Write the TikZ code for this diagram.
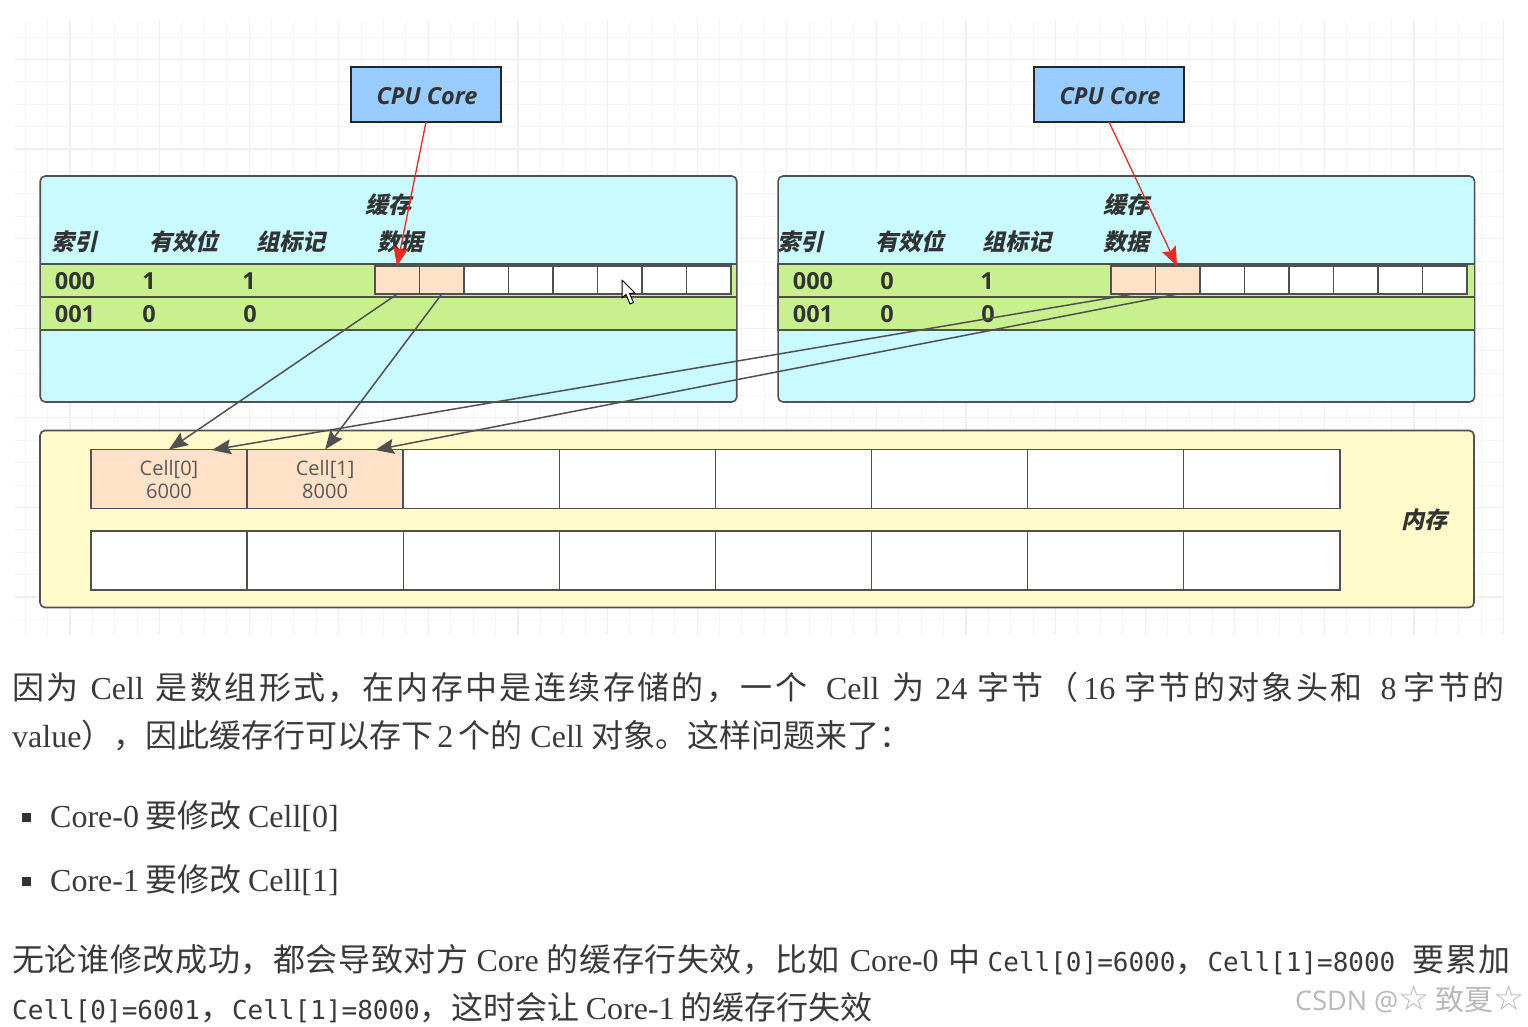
\documentclass[tikz,border=0pt]{standalone}
\usepackage{fontspec}
\setmainfont{Liberation Serif}
\setsansfont{Open Sans}
\setmonofont{DejaVu Sans Mono}
\newfontfamily\cjk{Noto Sans CJK SC}
\newfontfamily\cjka[LetterSpace=7.5]{Noto Sans CJK SC}
\newfontfamily\cjkb[LetterSpace=2]{Noto Sans CJK SC}
\newfontfamily\cjkhead[BoldFeatures={FakeSlant=0.22}]{Noto Sans CJK SC}
\newfontfamily\starfont{DejaVu Sans}
\usetikzlibrary{arrows.meta}
\definecolor{gridc}{HTML}{F5F5F5}
\definecolor{gridm}{HTML}{EFEFEF}
\definecolor{stroke}{HTML}{505050}
\definecolor{cachec}{HTML}{C8FAFF}
\definecolor{rowc}{HTML}{C8F08E}
\definecolor{cellc}{HTML}{FFE2C8}
\definecolor{memc}{HTML}{FFFBCB}
\definecolor{cpuc}{HTML}{99CCFF}
\definecolor{ink}{HTML}{333333}
\definecolor{para}{HTML}{3A3A3A}
\definecolor{redline}{HTML}{EE2A1C}
\newcommand{\cj}[1]{{\cjk #1}}
\newcommand{\cja}[1]{{\cjka #1}}
\newcommand{\cjb}[1]{{\cjkb #1}}
\newcommand{\hs}[1]{\hspace{#1pt}}
\newcommand{\mn}[1]{{\ttfamily\fontsize{26}{30}\selectfont #1}}
\newcommand{\cpulabel}{\hspace*{2pt}\raisebox{-2pt}[\height][\depth]{CPU Core}}
\tikzset{
  panel/.style={draw=stroke,line width=1.6pt,rounded corners=5pt},
  cachebox/.style={panel,fill=cachec,minimum width=696.5,minimum height=226,inner sep=0,outer sep=0},
  membox/.style={panel,fill=memc,minimum width=1434,minimum height=177,inner sep=0,outer sep=0},
  rowband/.style={draw=stroke,line width=1.3pt,fill=rowc,minimum width=696.5,minimum height=33,inner sep=0,outer sep=0},
  ccell/.style={draw=stroke,line width=1.2pt,fill=white,minimum width=44.5,minimum height=28,inner sep=0,outer sep=0},
  mcell/.style={draw=stroke,line width=1.4pt,fill=white,minimum width=156.1,minimum height=59,inner sep=0,outer sep=0,
     align=center,font=\sffamily\fontsize{20}{24}\selectfont,text=black!65},
  cpubox/.style={draw=black!85,line width=2.6pt,fill=cpuc,minimum width=150,minimum height=55,inner sep=0,outer sep=0,
     font=\sffamily\bfseries\itshape\fontsize{23.5}{28}\selectfont,text=ink},
  head/.style={font=\cjkhead\bfseries\fontsize{23}{26}\selectfont,text=ink,inner sep=0},
  val/.style={font=\sffamily\bfseries\fontsize{23.5}{26}\selectfont,text=ink,inner sep=0},
  line/.style={anchor=base west,inner sep=0,text=para,font=\fontsize{32}{38}\selectfont},
  redarrow/.style={draw=redline,line width=1.3pt,-{Stealth[length=19pt,width=15pt,inset=3pt]}},
  darkarrow/.style={draw=stroke,line width=1.5pt,-{Stealth[length=19pt,width=15pt,inset=3pt]}},
}
\begin{document}
\begin{tikzpicture}[x=1pt,y=-1pt]
\useasboundingbox (0,0) rectangle (1528,1026);
\fill[white] (0,0) rectangle (1528,1026);
% grid
\foreach \i in {0,...,66}{
  \draw[gridc,line width=1pt] ({25+22.4*\i},20) -- ({25+22.4*\i},635);
}
\foreach \i in {0,...,26}{
  \draw[gridc,line width=1pt] (15,{37+22.4*\i}) -- (1503,{37+22.4*\i});
}
\foreach \i in {0,...,16}{
  \draw[gridm,line width=1.2pt] ({70+89.6*\i},20) -- ({70+89.6*\i},635);
}
\foreach \i in {0,...,6}{
  \draw[gridm,line width=1.2pt] (15,{59.4+89.6*\i}) -- (1503,{59.4+89.6*\i});
}
% CPU
\node[cpubox] (cpuA) at (426,94.5) {\cpulabel};
\node[cpubox] (cpuB) at (1109,94.5) {\cpulabel};
% caches
\node[cachebox] (cacheA) at (388.5,289) {};
\node[cachebox] (cacheB) at (1126.3,289) {};
\node[rowband] (rowA0) at (388.5,280.5) {};
\node[rowband] (rowA1) at (388.5,313.5) {};
\node[rowband] (rowB0) at (1126.3,280.5) {};
\node[rowband] (rowB1) at (1126.3,313.5) {};
\foreach \i in {0,...,7}{
  \node[ccell] (A\i) at ({375+44.5*(\i+.5)},280) {};
  \node[ccell] (B\i) at ({1111+44.5*(\i+.5)},280) {};
}
\foreach \i in {0,1}{
  \node[ccell,fill=cellc] at (A\i) {};
  \node[ccell,fill=cellc] at (B\i) {};
}
% heads
\node[head] (ta) at (388.5,205) {缓存};
\node[head] (ha0) at (74.5,242) {索引};
\node[head] (ha1) at (183.5,242) {有效位};
\node[head] (ha2) at (290.5,242) {组标记};
\node[head] (ha3) at (400.5,242) {数据};
\node[head] (tb) at (1126.5,205) {缓存};
\node[head] (hb0) at (800.5,242) {索引};
\node[head] (hb1) at (909.5,242) {有效位};
\node[head] (hb2) at (1016.5,242) {组标记};
\node[head] (hb3) at (1126.5,242) {数据};
% values
\node[val] (va00) at (75,281.5) {000};
\node[val] (va01) at (149,281.5) {1};
\node[val] (va02) at (249,281.5) {1};
\node[val] (va10) at (75,314.5) {001};
\node[val] (va11) at (149,314.5) {0};
\node[val] (va12) at (250,314.5) {0};
\node[val] (vb00) at (813,281.5) {000};
\node[val] (vb01) at (887,281.5) {0};
\node[val] (vb02) at (987,281.5) {1};
\node[val] (vb10) at (813,314.5) {001};
\node[val] (vb11) at (887,314.5) {0};
\node[val] (vb12) at (988,314.5) {0};
% memory
\node[membox] (mem) at (757,519) {};
\foreach \i in {0,...,7}{
  \node[mcell] (M\i) at ({91+156.1*(\i+.5)},479) {};
  \node[mcell] (N\i) at ({91+156.1*(\i+.5)},560.5) {};
}
\node[mcell,fill=cellc] (M0) at (169,479) {Cell[0]\\[-1pt]6000};
\node[mcell,fill=cellc] (M1) at (325.1,479) {Cell[1]\\[-1pt]8000};
\node[head] (memt) at (1424,520) {内存};
% connectors
\coordinate (m0r) at (212,450);
\coordinate (m1r) at (375,450);
\draw[darkarrow] (A0.south) -- (M0.north);
\draw[darkarrow] (A1.south) -- (M1.north);
\draw[darkarrow] (B0.south) -- (m0r);
\draw[darkarrow] (B1.south) -- (m1r);
\coordinate (rA) at (397,266);
\coordinate (rB) at (1177,266);
\draw[redarrow] (cpuA.south) -- (rA);
\draw[redarrow] (cpuB.south) -- (rB);
% cursor
\draw[fill=white,draw=black,line width=1pt,line join=round] (622,280) -- (622,298) -- (626,294.5) -- (630,304) -- (633.5,302.5) -- (629.5,293.5) -- (635,293) -- cycle;
% paragraph
\node[line] (p1) at (12,699) {\cja{因为}\hs{12}Cell\hs{12}\cja{是数组形式，在内存中是连续存储的，一个}\hs{19}Cell\hs{13}\cja{为}\hs{11}24\hs{10}\cja{字节（}\hs{5}16\hs{9}\cja{字节的对象头和}\hs{18}8\hs{7}\cja{字节的}};
\node[line] (p2) at (12,747) {value\cj{），因此缓存行可以存下}\hs{4}2\hs{5}\cj{个的}\hs{8}Cell\hs{8}\cj{对象。这样问题来了：}};
\node[fill=ink,minimum size=9pt,inner sep=0] (b1) at (26,817) {};
\node[fill=ink,minimum size=9pt,inner sep=0] (b2) at (26,881) {};
\node[line] (p3) at (50,827) {Core-0\hs{6}\cj{要修改}\hs{7}Cell[0]};
\node[line] (p4) at (50,891) {Core-1\hs{6}\cj{要修改}\hs{7}Cell[1]};
\node[line] (p5) at (12,971) {\hbox to 1498pt{\cjb{无论谁修改成功，都会导致对方}\hs{8}Core\hs{8}\cjb{的缓存行失效，比如}\hs{10}Core-0\hs{10}\cjb{中}\hs{7}\mn{Cell[0]=6000}\cj{，}\mn{Cell[1]=8000}\hfill\cjb{要累加}}};
\node[line] (p6) at (12,1019) {\mn{Cell[0]=6001}\cj{，}\mn{Cell[1]=8000}\cj{，这时会让}\hs{6}Core-1\hs{6}\cj{的缓存行失效}};
\node[anchor=base west,inner sep=0,text=black!28,font=\sffamily\fontsize{27}{30}\selectfont] (wm) at (1295,1010) {CSDN @{\starfont\fontsize{35}{30}\selectfont ☆}\hs{6}{\cjk\fontsize{29}{30}\selectfont 致夏}{\starfont\fontsize{35}{30}\selectfont ☆}};
\end{tikzpicture}
\end{document}
